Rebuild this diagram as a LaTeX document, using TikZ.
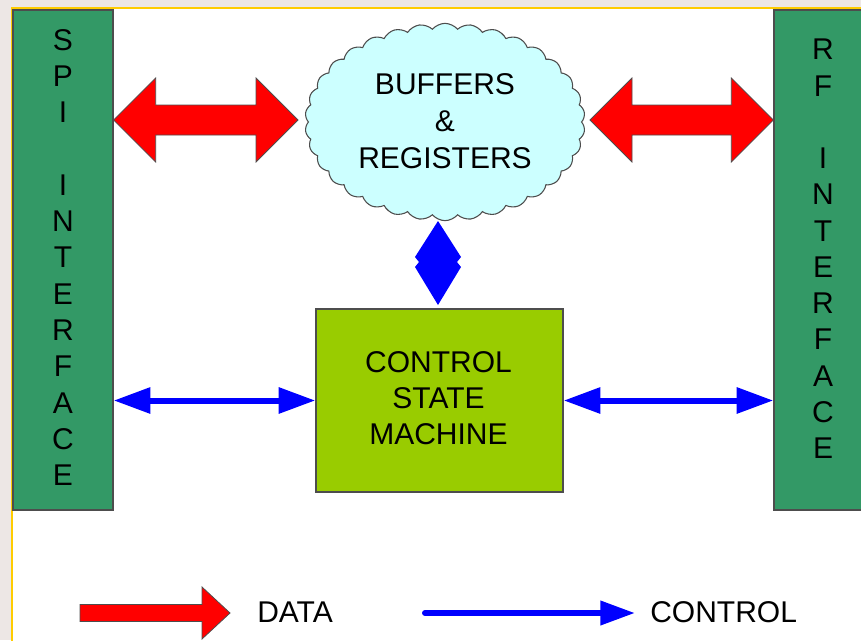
\documentclass[tikz,border=0pt]{standalone}
\usepackage{fontspec}
\setmainfont{Liberation Sans}
\usetikzlibrary{shapes.symbols,arrows.meta,calc}
\definecolor{bgout}{HTML}{EDE7E5}
\definecolor{frameyel}{HTML}{FFCC00}
\definecolor{ifgreen}{HTML}{339966}
\definecolor{ctlgreen}{HTML}{99CC00}
\definecolor{cloudcyan}{HTML}{CCFFFF}
\definecolor{edgegray}{HTML}{4D4D4D}
\definecolor{ctlblue}{HTML}{0000FF}
\definecolor{datared}{HTML}{FF0000}
\newcommand\FatDArrow[2]{%
  \filldraw[dataarrow] (#1) -- ($(#1)+(42,-42)$) -- ($(#1)+(42,-15)$) -- ($(#2)+(-42,-15)$) -- ($(#2)+(-42,-42)$) -- (#2) -- ($(#2)+(-42,42)$) -- ($(#2)+(-42,15)$) -- ($(#1)+(42,15)$) -- ($(#1)+(42,42)$) -- cycle;}
\begin{document}
\begin{tikzpicture}[x=0.75pt,y=-0.75pt,
  txt/.style={font=\fontsize{22.5}{27.2}\selectfont, text=black, inner sep=0pt, align=center},
  ifbox/.style={draw=edgegray, line width=1pt, fill=ifgreen, inner sep=0pt},
  ctlbox/.style={draw=edgegray, line width=1pt, fill=ctlgreen, inner sep=0pt},
  cloudbox/.style={cloud, cloud puffs=34, cloud puff arc=100, cloud ignores aspect, draw=edgegray, line width=0.8pt, fill=cloudcyan, inner sep=0pt},
  dataarrow/.style={fill=datared, draw=edgegray, line width=0.6pt, line join=miter},
  ctrl/.style={draw=ctlblue, line width=4.5pt, >={Triangle[length=27.5pt,width=18.75pt]}},
  diam/.style={fill=ctlblue}
]
\useasboundingbox (0,0) rectangle (861,640);
\fill[bgout] (0,0) rectangle (861,640);
\draw[frameyel, line width=1.5pt, fill=white] (12,8) rectangle (880,660);

% boxes
\node[ifbox, minimum width=75pt, minimum height=375pt] (spi) at (63,260) {};
\node[ifbox, minimum width=73.5pt, minimum height=375pt] (rf) at (823,260) {};
\node[ctlbox, minimum width=185.25pt, minimum height=137.25pt] (ctl) at (439.5,400.5) {};
\node[cloudbox, minimum width=210pt, minimum height=148pt] (cloud) at (445,122) {};

% texts
\node[txt] (spitxt) at (63,257.5) {S\\P\\I\\\mbox{}\\I\\N\\T\\E\\R\\F\\A\\C\\E};
\node[txt] (rftxt) at (823,249) {R\\F\\\mbox{}\\I\\N\\T\\E\\R\\F\\A\\C\\E};
\node[txt, font=\fontsize{22.5}{27.75}\selectfont] (cloudtxt) at (445,121) {BUFFERS\\\&\\REGISTERS};
\node[txt] (ctltxt) at (438.5,398) {CONTROL\\STATE\\MACHINE};

% data arrows
\coordinate (d1a) at (spi.east |- 0,120);
\coordinate (d1b) at (298,120);
\coordinate (d2a) at (590,120);
\coordinate (d2b) at (rf.west |- 0,120);
\FatDArrow{d1a}{d1b}
\FatDArrow{d2a}{d2b}

% control arrows
\draw[ctrl,<->] (spi.east |- ctl.west) -- (ctl.west);
\draw[ctrl,<->] (ctl.east) -- (rf.west |- ctl.east);

% vertical control (diamond)
\coordinate (vt) at (438,221);
\coordinate (vb) at (438,305);
\fill[diam] (vt) -- ($(vt)+(23,36)$) -- ($(vt)+(19,41)$) -- ($(vt)+(23,46)$) -- (vb) -- ($(vt)+(-23,46)$) -- ($(vt)+(-19,41)$) -- ($(vt)+(-23,36)$) -- cycle;

% legend
\coordinate (lda) at (80,613);
\coordinate (ldb) at (230,613);
\filldraw[dataarrow] (lda) -- ($(lda)+(0,-8.5)$) -- ($(ldb)+(-28,-8.5)$) -- ($(ldb)+(-28,-26)$) -- (ldb) -- ($(ldb)+(-28,26)$) -- ($(ldb)+(-28,8.5)$) -- ($(lda)+(0,8.5)$) -- cycle;
\node[txt, anchor=west] (datatxt) at (257,612) {DATA};
\coordinate (lca) at (425,613);
\coordinate (lcb) at (635,613);
\draw[ctrl, line cap=round, ->, >={Triangle[length=26pt,width=17.5pt]}] (lca) -- (lcb);
\node[txt, anchor=west] (ctrltxt) at (650,612) {CONTROL};
\end{tikzpicture}
\end{document}
